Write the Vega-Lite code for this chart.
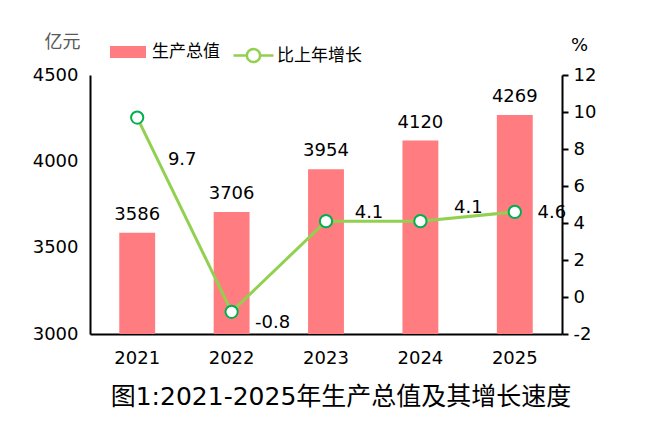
{
  "$schema": "https://vega.github.io/schema/vega-lite/v6.json",
  "width": 472,
  "height": 259,
  "autosize": {"type": "none"},
  "padding": {"left": 90, "top": 75, "right": 92, "bottom": 91},
  "background": "white",
  "config": {
    "view": {"stroke": null},
    "locale": {"number": {"decimal": ".", "thousands": ",", "grouping": [3], "currency": ["$", ""], "minus": "-"}},
    "font": "DejaVu Sans, Noto Sans CJK SC",
    "axis": {"grid": false, "labelFont": "DejaVu Sans", "labelFontSize": 18, "labelColor": "black", "domainColor": "black", "domainWidth": 2, "labelOverlap": false}
  },
  "title": {
    "text": "图1:2021-2025年生产总值及其增长速度",
    "orient": "bottom",
    "anchor": "middle",
    "font": "DejaVu Sans, Noto Sans CJK SC",
    "fontSize": 25,
    "fontWeight": "normal",
    "color": "black",
    "offset": 18,
    "dx": 15
  },
  "data": {
    "values": [
      {"year": "2021", "gdp": 3586, "growth": 9.7},
      {"year": "2022", "gdp": 3706, "growth": -0.8},
      {"year": "2023", "gdp": 3954, "growth": 4.1},
      {"year": "2024", "gdp": 4120, "growth": 4.1},
      {"year": "2025", "gdp": 4269, "growth": 4.6}
    ]
  },
  "encoding": {
    "x": {
      "field": "year", "type": "nominal",
      "scale": {"paddingInner": 0.62, "paddingOuter": 0.31},
      "axis": {"title": null, "labelAngle": 0, "ticks": false, "labelPadding": 15}
    }
  },
  "layer": [
    {
      "layer": [
        {
          "mark": {"type": "bar", "color": "#FF7C80"},
          "encoding": {
            "y": {
              "field": "gdp", "type": "quantitative",
              "scale": {"domain": [3000, 4500], "zero": false, "nice": false},
              "axis": {
                "values": [3000, 3500, 4000, 4500], "tickCount": 10, "format": "d", "ticks": false, "labelPadding": 12,
                "title": "亿元", "titleAngle": 0, "titleFont": "Noto Sans CJK SC", "titleFontSize": 18, "titleFontWeight": "normal", "titleColor": "#595959",
                "titleX": -28, "titleY": -33, "titleAlign": "center", "titleBaseline": "middle"
              }
            },
            "y2": {"datum": 3000},
            "fill": {
              "datum": "生产总值", "type": "nominal",
              "scale": {"range": ["#FF7C80"]},
              "legend": {
                "orient": "none", "legendX": 20, "legendY": -41, "title": null,
                "symbolType": "M-1,-0.333H1V0.333H-1Z", "symbolSize": 1296, "symbolStrokeWidth": 0,
                "labelFont": "Noto Sans CJK SC", "labelFontSize": 17, "labelColor": "black", "labelOffset": 6
              }
            }
          }
        },
        {
          "mark": {"type": "text", "baseline": "bottom", "dy": -9, "fontSize": 18, "font": "DejaVu Sans", "color": "black"},
          "encoding": {
            "y": {"field": "gdp", "type": "quantitative"},
            "text": {"field": "gdp", "type": "quantitative", "format": "d"}
          }
        }
      ]
    },
    {
      "layer": [
        {
          "mark": {"type": "line", "strokeWidth": 3},
          "encoding": {
            "y": {
              "field": "growth", "type": "quantitative",
              "scale": {"domain": [-2, 12], "nice": false},
              "axis": {
                "orient": "right", "values": [-2, 0, 2, 4, 6, 8, 10, 12], "tickCount": 12, "format": "d", "labelOverlap": false, "labelFlush": false, "tickSize": 6, "tickWidth": 2, "tickColor": "black", "labelPadding": 5,
                "title": "%", "titleAngle": 0, "titleFont": "DejaVu Sans", "titleFontSize": 18, "titleFontWeight": "normal", "titleColor": "black",
                "titleX": 17, "titleY": -30, "titleAlign": "center", "titleBaseline": "middle"
              }
            },
            "stroke": {
              "datum": "比上年增长", "type": "nominal",
              "scale": {"range": ["#92D050"]},
              "legend": {
                "orient": "none", "legendX": 142, "legendY": -41, "title": null,
                "symbolType": "M-1,0H-0.33M0.33,0H1M-0.33,0A0.33,0.33 0 1,0 0.33,0A0.33,0.33 0 1,0 -0.33,0",
                "symbolSize": 1600, "symbolStrokeWidth": 2.5, "symbolFillColor": "white",
                "labelFont": "Noto Sans CJK SC", "labelFontSize": 17, "labelColor": "black", "labelOffset": 2
              }
            }
          }
        },
        {
          "mark": {"type": "point", "shape": "circle", "filled": true, "fill": "white", "stroke": "#00B050", "strokeWidth": 2, "size": 150, "opacity": 1},
          "encoding": {"y": {"field": "growth", "type": "quantitative"}}
        },
        {
          "transform": [{"filter": "datum.year == '2021'"}],
          "mark": {"type": "text", "fontSize": 18, "font": "DejaVu Sans", "color": "black", "dx": 45, "dy": 42},
          "encoding": {"y": {"field": "growth", "type": "quantitative"}, "text": {"field": "growth", "type": "quantitative", "format": ".1f"}}
        },
        {
          "transform": [{"filter": "datum.year == '2022'"}],
          "mark": {"type": "text", "fontSize": 18, "font": "DejaVu Sans", "color": "black", "dx": 41, "dy": 11},
          "encoding": {"y": {"field": "growth", "type": "quantitative"}, "text": {"field": "growth", "type": "quantitative", "format": ".1f"}}
        },
        {
          "transform": [{"filter": "datum.year == '2023'"}],
          "mark": {"type": "text", "fontSize": 18, "font": "DejaVu Sans", "color": "black", "dx": 43, "dy": -8},
          "encoding": {"y": {"field": "growth", "type": "quantitative"}, "text": {"field": "growth", "type": "quantitative", "format": ".1f"}}
        },
        {
          "transform": [{"filter": "datum.year == '2024'"}],
          "mark": {"type": "text", "fontSize": 18, "font": "DejaVu Sans", "color": "black", "dx": 48, "dy": -13},
          "encoding": {"y": {"field": "growth", "type": "quantitative"}, "text": {"field": "growth", "type": "quantitative", "format": ".1f"}}
        },
        {
          "transform": [{"filter": "datum.year == '2025'"}],
          "mark": {"type": "text", "fontSize": 18, "font": "DejaVu Sans", "color": "black", "dx": 37, "dy": 1},
          "encoding": {"y": {"field": "growth", "type": "quantitative"}, "text": {"field": "growth", "type": "quantitative", "format": ".1f"}}
        }
      ]
    }
  ],
  "resolve": {"scale": {"y": "independent"}}
}
